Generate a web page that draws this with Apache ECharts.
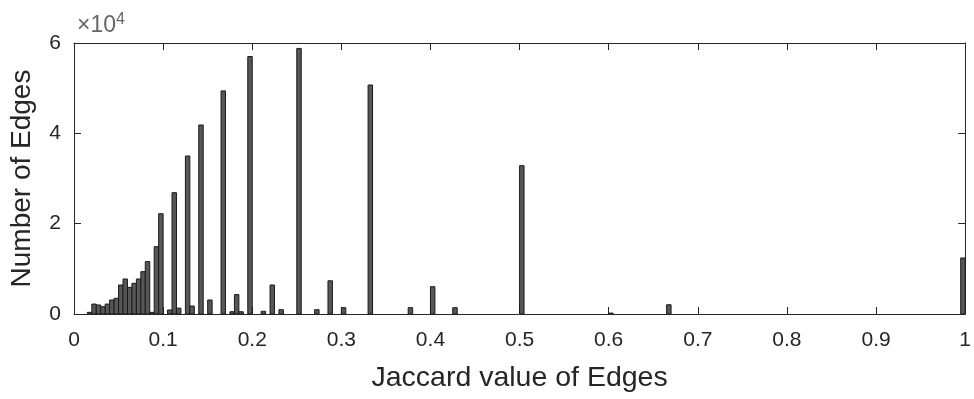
<!DOCTYPE html>
<html>
<head>
<meta charset="utf-8">
<script src="https://cdn.jsdelivr.net/npm/echarts@6/dist/echarts.min.js"></script>
<style>
html,body{margin:0;padding:0;background:#fff;}
#chart{width:974px;height:399px;}
</style>
</head>
<body>
<div id="chart"></div>
<script>
// Histogram bins (left edges) and counts, bin width 0.005
const BIN_WIDTH = 0.005;
const binLeft = [0.015,0.020,0.025,0.030,0.035,0.040,0.045,0.050,0.055,0.060,0.065,0.070,0.075,0.080,0.085,0.090,0.095,
  0.105,0.110,0.115,0.125,0.130,0.140,0.150,0.165,0.175,0.180,0.185,0.195,0.210,0.220,0.230,0.250,0.270,0.285,0.300,
  0.330,0.375,0.400,0.425,0.500,0.600,0.665,0.995];
const counts = [370,2200,2000,1620,2200,3100,3470,6420,7750,5900,6800,7750,9370,11600,370,14900,22200,
  890,26860,1300,34980,1770,41850,3100,49400,500,4300,500,57000,600,6420,950,58800,950,7350,1400,
  50700,1400,6050,1400,32840,200,2050,12400];
const xTicks = [0,0.1,0.2,0.3,0.4,0.5,0.6,0.7,0.8,0.9,1];
const yTicks = [0,20000,40000,60000];

const chart = echarts.init(document.getElementById('chart'), null, {renderer:'canvas'});
const TXT = '#262626';
const FONT = 'Liberation Sans, Arial, sans-serif';
const data = binLeft.map((x,i)=>[x,counts[i]]);

const commonTick = {show:true, inside:true, length:7, lineStyle:{color:TXT, width:1}};
const option = {
  animation:false,
  backgroundColor:'#fff',
  grid:{left:74, right:7, top:43, bottom:85, show:false},
  xAxis:[{
    type:'value', min:xTicks[0], max:xTicks[xTicks.length-1], interval:0.1,
    name:'Jaccard value of Edges', nameLocation:'middle', nameGap:50,
    nameTextStyle:{color:TXT, fontSize:28.5, fontFamily:FONT},
    axisLine:{show:true, onZero:false, lineStyle:{color:TXT, width:1}},
    axisTick:commonTick,
    axisLabel:{color:TXT, fontSize:21, fontFamily:FONT, margin:16},
    splitLine:{show:false}
  },{
    type:'value', position:'top', min:0, max:1, interval:0.1,
    axisLine:{show:true, onZero:false, lineStyle:{color:TXT, width:1}},
    axisTick:commonTick, axisLabel:{show:false}, splitLine:{show:false}
  }],
  yAxis:[{
    type:'value', min:yTicks[0], max:yTicks[yTicks.length-1], interval:20000,
    name:'Number of Edges', nameLocation:'middle', nameGap:38, nameRotate:90,
    nameTextStyle:{color:TXT, fontSize:28, fontFamily:FONT},
    axisLine:{show:true, onZero:false, lineStyle:{color:TXT, width:1}},
    axisTick:commonTick,
    axisLabel:{color:TXT, fontSize:21, fontFamily:FONT, margin:13, formatter:v=>String(v/10000)},
    splitLine:{show:false}
  },{
    type:'value', position:'right', min:0, max:60000, interval:20000,
    axisLine:{show:true, onZero:false, lineStyle:{color:TXT, width:1}},
    axisTick:commonTick, axisLabel:{show:false}, splitLine:{show:false}
  }],
  graphic:[{
    type:'text', left:77, top:12,
    style:{
      rich:{b:{fontSize:23, fontFamily:FONT, fill:'#666'}, s:{fontSize:16, fontFamily:FONT, fill:'#666', verticalAlign:'top', padding:[0,0,12,0]}},
      text:'{b|×10}{s|4}'
    }
  }],
  series:[{
    type:'custom', clip:true,
    data:data,
    renderItem:function(params, api){
      const x0 = api.value(0), v = api.value(1);
      const p0 = api.coord([x0, v]);
      const p1 = api.coord([x0 + BIN_WIDTH, 0]);
      return {
        type:'rect',
        shape:{x:p0[0], y:p0[1], width:p1[0]-p0[0], height:p1[1]-p0[1]},
        style:{fill:'#575757', stroke:'#1a1a1a', lineWidth:1}
      };
    }
  }]
};
chart.setOption(option);
</script>
</body>
</html>
